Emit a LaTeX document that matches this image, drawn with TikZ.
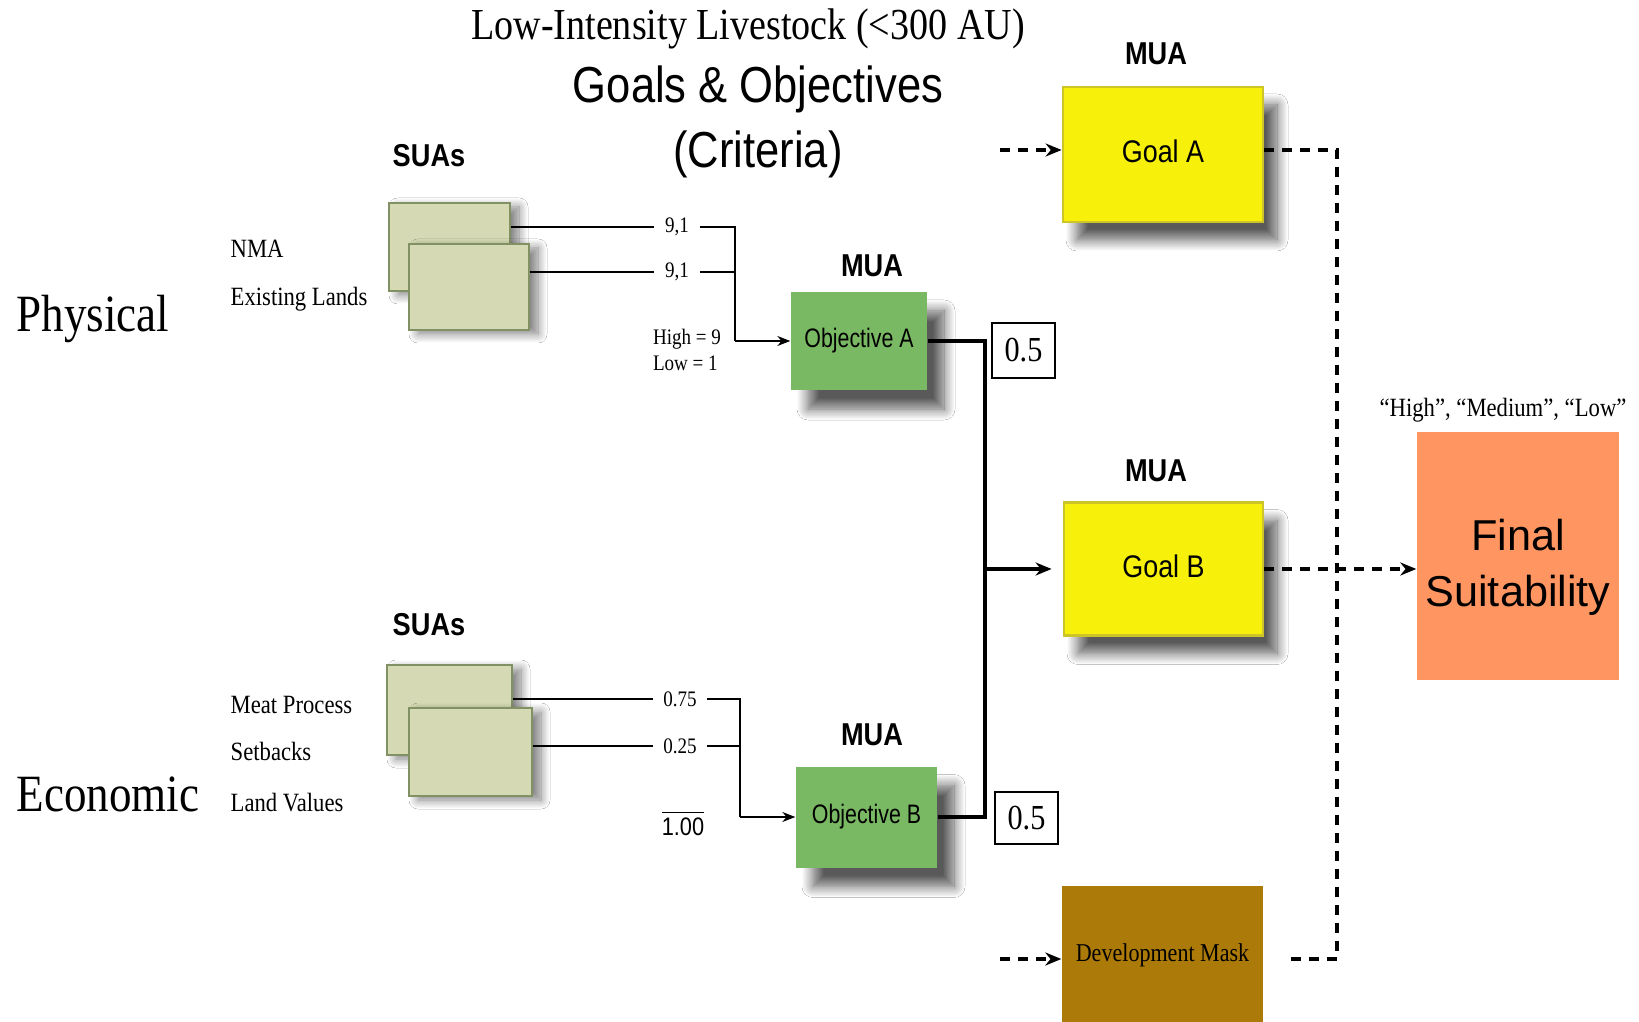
\documentclass[tikz,border=0pt]{standalone}
\usepackage{fontspec}
\usepackage{graphicx}
\usetikzlibrary{arrows.meta,shadows.blur}
\newfontfamily\serN{Liberation Serif}[FakeStretch=0.86]
\newfontfamily\sanN{Liberation Sans}[FakeStretch=0.86]
\newfontfamily\sanNN{Liberation Sans}[FakeStretch=0.8]
\newfontfamily\sanR{Liberation Sans}
\definecolor{suafill}{RGB}{213,218,180}
\definecolor{suadraw}{RGB}{130,145,100}
\definecolor{objfill}{RGB}{122,185,99}
\definecolor{goalfill}{RGB}{246,240,10}
\definecolor{goaldraw}{RGB}{205,196,40}
\definecolor{devfill}{RGB}{172,122,8}
\definecolor{finfill}{RGB}{255,150,98}
\begin{document}
\begin{tikzpicture}[x=0.1mm,y=-0.1mm,
  sua/.style={draw=suadraw, fill=suafill, line width=0.3pt, inner sep=0pt,
    blur shadow={shadow xshift=0.9mm, shadow yshift=-0.4mm, shadow blur radius=0.9mm, shadow blur steps=12, shadow opacity=50}},
  objbox/.style={fill=objfill, inner sep=0pt, font=\sanNN\fontsize{7.6}{9}\selectfont,
    blur shadow={shadow xshift=1.7mm, shadow yshift=-1.9mm, shadow blur radius=1.1mm, shadow blur steps=14, shadow opacity=65}},
  goalbox/.style={fill=goalfill, draw=goaldraw, line width=0.8pt, inner sep=0pt, font=\sanN\fontsize{8.9}{10}\selectfont,
    blur shadow={shadow xshift=1.4mm, shadow yshift=-1.8mm, shadow blur radius=1.1mm, shadow blur steps=14, shadow opacity=65}},
  devbox/.style={fill=devfill, inner sep=0pt, font=\serN\fontsize{7.3}{9}\selectfont},
  finbox/.style={fill=finfill, inner sep=0pt},
  fintext/.style={inner sep=0pt, align=center, font=\sanR\fontsize{12.3}{16}\selectfont},
  wbox/.style={draw, line width=0.65pt, fill=white, inner sep=0pt, font=\serN\fontsize{10}{12}\selectfont},
  titlefont/.style={inner sep=0pt, font=\serN\fontsize{12.6}{15}\selectfont},
  headfont/.style={inner sep=0pt, font=\sanN\fontsize{14.4}{17}\selectfont},
  bigfont/.style={inner sep=0pt, font=\serN\fontsize{14.9}{17}\selectfont},
  labfont/.style={inner sep=0pt, font=\serN\fontsize{7.5}{9}\selectfont},
  boldfont/.style={inner sep=0pt, font=\sanN\bfseries\fontsize{9}{11}\selectfont},
  tinyfont/.style={inner xsep=1mm, inner ysep=0pt, font=\serN\fontsize{6.3}{7.2}\selectfont},
  thinl/.style={line width=0.4pt},
  thickl/.style={line width=0.9pt},
  dashl/.style={line width=0.95pt, dash pattern=on 1mm off 0.8mm},
  tipS/.style={-{Stealth[length=1.3mm,width=1mm]}},
  tipL/.style={-{Stealth[length=1.6mm,width=1.3mm]}}
]
\useasboundingbox (0,0) rectangle (1639,1022);
\fill[white] (0,0) rectangle (1639,1022);

% titles
\node[titlefont] (t1) at (748,29) {Low-Intensity Livestock (<300 AU)};
\node[headfont] (t2) at (758,89) {Goals \& Objectives};
\node[headfont] (t3) at (758,154) {(Criteria)};

% side labels
\node[bigfont] (phys) at (93,319) {Physical};
\node[bigfont] (econ) at (108,794) {Economic};
\node[labfont, anchor=west] (nma) at (230,249) {NMA};
\node[labfont, anchor=west] (exl) at (230,299) {Existing Lands};
\node[labfont, anchor=west] (meat) at (230,705) {Meat Process};
\node[labfont, anchor=west] (setb) at (230,751) {Setbacks};
\node[labfont, anchor=west] (landv) at (230,803) {Land Values};

% headers
\node[boldfont] (suasA) at (429,156) {SUAs};
\node[boldfont] (suasB) at (429,625) {SUAs};
\node[boldfont] (muaOA) at (872,266) {MUA};
\node[boldfont] (muaOB) at (872,735) {MUA};
\node[boldfont] (muaGA) at (1156,54) {MUA};
\node[boldfont] (muaGB) at (1156,471) {MUA};

% SUA boxes
\node[sua, minimum width=12.1mm, minimum height=8.8mm] (suaA1) at (449.5,247) {};
\node[sua, minimum width=12.0mm, minimum height=8.6mm] (suaA2) at (469,287) {};
\node[sua, minimum width=12.5mm, minimum height=9.0mm] (suaB1) at (449.5,710) {};
\node[sua, minimum width=12.3mm, minimum height=8.8mm] (suaB2) at (470.5,752) {};

% objective, goal and other boxes
\node[objbox, minimum width=13.6mm, minimum height=9.8mm] (objA) at (859,341) {Objective A};
\node[objbox, minimum width=14.1mm, minimum height=10.1mm] (objB) at (866.5,817) {Objective B};
\node[goalbox, minimum width=20mm, minimum height=13.5mm, text depth=0.6mm] (goalA) at (1163,154.5) {Goal A};
\node[goalbox, minimum width=19.9mm, minimum height=13.3mm, text depth=0.6mm] (goalB) at (1163.5,569) {Goal B};
\node[devbox, minimum width=20.1mm, minimum height=13.8mm] (dev) at (1162.5,955) {Development Mask};
\node[finbox, minimum width=20.2mm, minimum height=24.8mm] (final) at (1518,556) {};
\node[fintext] (fintxt) at (1518,567) {Final\\Suitability};
\node[labfont] (hml) at (1503,410) {“High”, “Medium”, “Low”};

% weights
\node[wbox, minimum width=6.3mm, minimum height=5.5mm] (wA) at (1023.5,350.5) {0.5};
\node[wbox, minimum width=6.3mm, minimum height=5.2mm] (wB) at (1026.5,818) {0.5};

% small labels
\node[tinyfont] (l1) at (677,227) {9,1};
\node[tinyfont] (l2) at (677,272) {9,1};
\node[tinyfont] (l3) at (680,699) {0.75};
\node[tinyfont] (l4) at (680,746) {0.25};
\node[tinyfont, align=left] (hl) at (687,350) {High = 9\\Low = 1};
\node[inner sep=0pt, font=\sanN\fontsize{7.2}{9}\selectfont] (tot) at (683,823) {$\overline{\mbox{1.00}}$};

% thin connectors
\coordinate (jA) at (735,341);
\coordinate (jB) at (740,817);
\draw[thinl] (suaA1.east |- l1) -- (l1.west);
\draw[thinl] (l1.east) -| (jA);
\draw[thinl] (suaA2.east |- l2) -- (l2.west);
\draw[thinl] (l2.east) -- (l2.east -| jA);
\draw[thinl, tipS] (jA) -- (objA.west);
\draw[thinl] (suaB1.east |- l3) -- (l3.west);
\draw[thinl] (l3.east) -| (jB);
\draw[thinl] (suaB2.east |- l4) -- (l4.west);
\draw[thinl] (l4.east) -- (l4.east -| jB);
\draw[thinl, tipS] (jB) -- (objB.west);

% objective outputs
\coordinate (vA) at (985,341);
\coordinate (vB) at (985,817);
\coordinate (vM) at (985,569);
\draw[thickl] (objA.east) -- (vA) -- (vB) -- (objB.east);
\draw[thickl, tipL, shorten >=1.1mm] (vM) -- (goalB.west);

% dashed connectors
\coordinate (inA) at (1000,150);
\coordinate (rA) at (1337,150);
\coordinate (rD) at (1337,959);
\coordinate (dOut) at (1288,959);
\coordinate (inD) at (1000,959);
\draw[dashl, tipL] (inA) -- (goalA.west |- inA);
\draw[dashl] (goalA.east |- inA) -- (rA) -- (rD) -- (dOut);
\draw[dashl, tipL] (inD) -- (dev.west |- inD);
\draw[dashl, tipL] (goalB.east) -- (final.west |- goalB.east);
\end{tikzpicture}
\end{document}
